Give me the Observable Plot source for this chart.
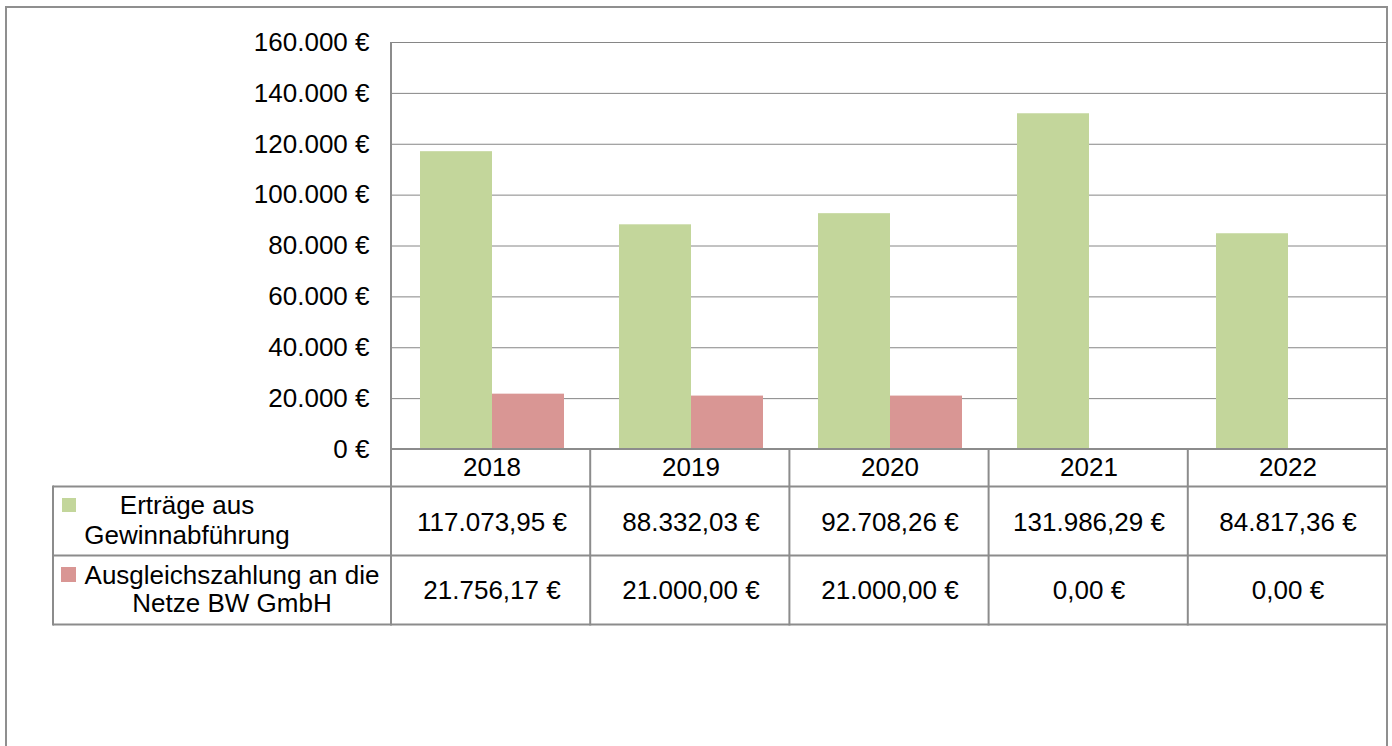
<!DOCTYPE html>
<html>
<head>
<meta charset="utf-8">
<script src="https://cdn.jsdelivr.net/npm/d3@7"></script>
<script src="https://cdn.jsdelivr.net/npm/@observablehq/plot@0.6"></script>
<style>
  html, body { margin: 0; padding: 0; background: #fff; }
  #chart { position: relative; width: 1392px; height: 746px; overflow: hidden; }
</style>
</head>
<body>
<div id="chart"></div>
<script>
// ---- data ----
const years = ["2018", "2019", "2020", "2021", "2022"];
const seriesNames = ["Erträge aus Gewinnabführung", "Ausgleichszahlung an die Netze BW GmbH"];
const seriesLabelLines = [["Erträge aus", "Gewinnabführung"], ["Ausgleichszahlung an die", "Netze BW GmbH"]];
const ertraege = [117073.95, 88332.03, 92708.26, 131986.29, 84817.36];
const ausgleich = [21756.17, 21000.00, 21000.00, 0, 0];
const yTicks = [0, 20000, 40000, 60000, 80000, 100000, 120000, 140000, 160000];
const seriesColors = ["#C3D69B", "#D99694"];

const de = d3.formatLocale({decimal: ",", thousands: ".", grouping: [3], currency: ["", " €"]});
const fmtAxis = de.format("$,.0f");
const fmtVal = de.format("$,.2f");

const data = years.flatMap((yr, i) => [
  {year: yr, series: seriesNames[0], value: ertraege[i], row: 0},
  {year: yr, series: seriesNames[1], value: ausgleich[i], row: 1}
]);

const FONT = "'Liberation Sans', Arial, Helvetica, sans-serif";
const GRID = "#868686";
const LINE = "#8c8c8c";

const chart = Plot.plot({
  width: 1392,
  height: 746,
  marginTop: 42,
  marginBottom: 297,
  marginLeft: 391,
  marginRight: 5,
  style: {fontFamily: FONT, fontSize: "26px", color: "#000", background: "transparent", overflow: "visible"},
  fx: {domain: years, padding: 0, label: null, axis: "bottom", tickSize: 0, tickPadding: 8},
  x: {domain: seriesNames, paddingInner: 0, paddingOuter: 0.37, axis: null},
  y: {domain: [0, 160000], ticks: 8, tickFormat: fmtAxis, tickSize: 0, tickPadding: 23, label: null},
  color: {domain: seriesNames, range: seriesColors},
  marks: [
    Plot.ruleY(yTicks, {stroke: GRID, strokeWidth: 1}),
    Plot.barY(data, {fx: "year", x: "series", y: "value", fill: "series"}),
    Plot.text(data.filter(d => d.row === 0), {fx: "year", frameAnchor: "bottom", dy: 81, text: d => fmtVal(d.value), fill: "#000"}),
    Plot.text(data.filter(d => d.row === 1), {fx: "year", frameAnchor: "bottom", dy: 149.5, text: d => fmtVal(d.value), fill: "#000"})
  ]
});
document.getElementById("chart").appendChild(chart);

// ---- data table grid, row headers and outer frame ----
const svg = d3.select(chart);
const fxs = chart.scale("fx");
const ys = chart.scale("y");
const left = fxs.range[0], right = fxs.range[1];
const step = (right - left) / years.length;
const colEdges = d3.range(years.length + 1).map(i => left + i * step);
const y0 = ys.apply ? ys.apply(0) : 449;
const yTop = ys.apply ? ys.apply(160000) : 42;
const rowLines = [y0 + 37.5, y0 + 106.5, y0 + 175.5];
const headerLeft = 53;

const g = svg.append("g").attr("stroke", LINE).attr("stroke-width", 2).attr("fill", "none");
// x axis line / table top
g.append("line").attr("x1", left).attr("x2", right).attr("y1", y0).attr("y2", y0);
// row lines
rowLines.forEach(yy => g.append("line").attr("x1", headerLeft).attr("x2", right).attr("y1", yy).attr("y2", yy));
// plot left border
g.append("line").attr("x1", left).attr("x2", left).attr("y1", yTop).attr("y2", rowLines[2] + 1);
// column separators
colEdges.slice(1, -1).forEach(xx => g.append("line").attr("x1", xx).attr("x2", xx).attr("y1", y0).attr("y2", rowLines[2] + 1));
// row header left border
g.append("line").attr("x1", headerLeft).attr("x2", headerLeft).attr("y1", rowLines[0] - 1).attr("y2", rowLines[2] + 1);
// outer frame
g.append("path").attr("stroke", "#8f8f8f").attr("d", `M6,746 V7 H${right} V746`);

// legend keys + row header text
const keyPos = [{x: 62, y: y0 + 49, s: 14}, {x: 61, y: y0 + 118, s: 15}];
const textPos = [
  {cx: 187, ys: [y0 + 56, y0 + 86]},
  {cx: 232, ys: [y0 + 126, y0 + 154]}
];
seriesNames.forEach((s, i) => {
  svg.append("rect").attr("x", keyPos[i].x).attr("y", keyPos[i].y)
    .attr("width", keyPos[i].s).attr("height", keyPos[i].s).attr("fill", seriesColors[i]);
  seriesLabelLines[i].forEach((line, j) => {
    svg.append("text").attr("x", textPos[i].cx).attr("y", textPos[i].ys[j])
      .attr("text-anchor", "middle").attr("dominant-baseline", "central")
      .attr("font-family", FONT).attr("font-size", 26).attr("fill", "#000")
      .text(line);
  });
});
</script>
</body>
</html>
